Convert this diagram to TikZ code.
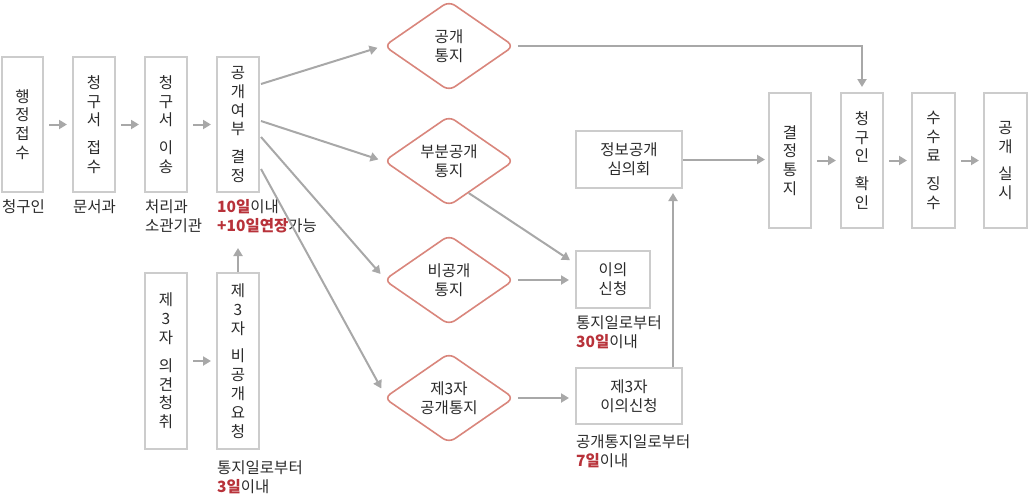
\documentclass[tikz,border=0pt]{standalone}
\usepackage{fontspec}
\setmainfont{Noto Sans CJK KR}
\usetikzlibrary{arrows.meta,shapes.geometric,calc}
\definecolor{boxgray}{HTML}{CCCCCC}
\definecolor{arrgray}{HTML}{A8A8A8}
\definecolor{diared}{HTML}{D9867C}
\definecolor{hired}{HTML}{B8323A}
\definecolor{txt}{HTML}{2A2A2A}
\newcommand{\hl}[1]{\textcolor{hired}{\textbf{#1}}}
\begin{document}
\begin{tikzpicture}[x=1pt,y=-1pt,
  every node/.style={text=txt, font=\fontsize{15.5}{18.8}\selectfont},
  box/.style={draw=boxgray, line width=2pt, fill=white, inner sep=0pt, align=center},
  vbox/.style={box, minimum width=42, minimum height=135},
  dia/.style={diamond, draw=diared, line width=1.6pt, rounded corners=7pt, minimum width=130, minimum height=90, inner sep=0pt, align=center},
  arr/.style={draw=arrgray, line width=2pt, -{Triangle[length=8pt,width=9pt]}},
  lab/.style={anchor=north west, inner sep=0pt, align=left, font=\fontsize{15.5}{19.5}\selectfont}]
\useasboundingbox (0,0) rectangle (1029,498);
% left chain
\node[vbox, minimum width=41] (b1) at (22.5,124.5) {행\\정\\접\\수};
\node[vbox] (b2) at (94,124.5) {청\\구\\서\\[9pt]접\\수};
\node[vbox] (b3) at (166,124.5) {청\\구\\서\\[9pt]이\\송};
\node[vbox] (b4) at (238,124.5) {공\\개\\여\\부\\[9pt]결\\정};
\node[vbox, minimum height=176] (b5) at (166,361) {제\\3\\자\\[9pt]의\\견\\청\\취};
\node[vbox, minimum height=176] (b6) at (238,361) {제\\3\\자\\[9pt]비\\공\\개\\요\\청};
% diamonds
\node[dia] (d1) at (449,46) {공개\\통지};
\node[dia] (d2) at (449,161) {부분공개\\통지};
\node[dia] (d3) at (449,280) {비공개\\통지};
\node[dia] (d4) at (449,398) {제3자\\공개통지};
% middle boxes
\node[box, minimum width=106, minimum height=57] (c1) at (629,159.5) {정보공개\\심의회};
\node[box, minimum width=74, minimum height=57] (c2) at (613,279.5) {이의\\신청};
\node[box, minimum width=106, minimum height=56] (c3) at (629,396) {제3자\\이의신청};
% right chain
\node[vbox] (b8) at (790,160.5) {결\\정\\통\\지};
\node[vbox] (b9) at (862,160.5) {청\\구\\인\\[9pt]확\\인};
\node[vbox, minimum width=43] (b10) at (933.5,160.5) {수\\수\\료\\[9pt]징\\수};
\node[vbox, minimum width=43] (b11) at (1005.5,160.5) {공\\개\\[9pt]실\\시};
% labels
\node[lab] (l1) at (2,199) {청구인};
\node[lab] (l2) at (73,199) {문서과};
\node[lab] (l3) at (145,199) {처리과\\소관기관};
\node[lab] (l4) at (217,199) {\hl{10일}이내\\\hl{+10일연장}가능};
\node[lab] (l6) at (217,460) {통지일로부터\\\hl{3일}이내};
\node[lab] (lc2) at (576,315) {통지일로부터\\\hl{30일}이내};
\node[lab] (lc3) at (576,434) {공개통지일로부터\\\hl{7일}이내};
% connectors
\draw[arr, shorten <=5pt, shorten >=5pt] (b1) -- (b2);
\draw[arr, shorten <=5pt, shorten >=5pt] (b2) -- (b3);
\draw[arr, shorten <=5pt, shorten >=5pt] (b3) -- (b4);
\draw[arr, shorten <=5pt, shorten >=5pt] (b5) -- (b6);
\coordinate (up6) at (238,248);
\draw[arr] (b6.north) -- (up6);
\draw[arr, shorten >=6pt] ($(b4.north east)+(1,28)$) -- (d1.west);
\draw[arr, shorten >=5pt] ($(b4.north east)+(1,65)$) -- (d2.west);
\draw[arr, shorten >=4pt] ($(b4.north east)+(1,81)$) -- ($(d3.west)+(0,-3)$);
\draw[arr, shorten >=4pt] ($(b4.north east)+(1,113)$) -- ($(d4.west)+(0,-6)$);
\draw[arr, shorten <=3pt, shorten >=5pt] (d1.east) -| (b9.north);
\draw[arr, shorten >=6pt] ($(d2.south)!0.3!(d2.east)$) -- ($(c2.west)+(0,-16)$);
\draw[arr, shorten <=3pt, shorten >=6pt] (d3.east) -- (d3.east -| c2.west);
\draw[arr, shorten <=3pt, shorten >=6pt] (d4.east) -- (d4.east -| c3.west);
\coordinate (c3top) at ($(c3.north east)+(-10,0)$);
\draw[arr, shorten >=4pt] (c3top) -- (c3top |- c1.south);
\draw[arr, shorten >=3pt] (c1.east) -- (c1.east -| b8.west);
\draw[arr, shorten <=5pt, shorten >=4pt] (b8) -- (b9);
\draw[arr, shorten <=5pt, shorten >=4pt] (b9) -- (b10);
\draw[arr, shorten <=5pt, shorten >=4pt] (b10) -- (b11);
\end{tikzpicture}
\end{document}
